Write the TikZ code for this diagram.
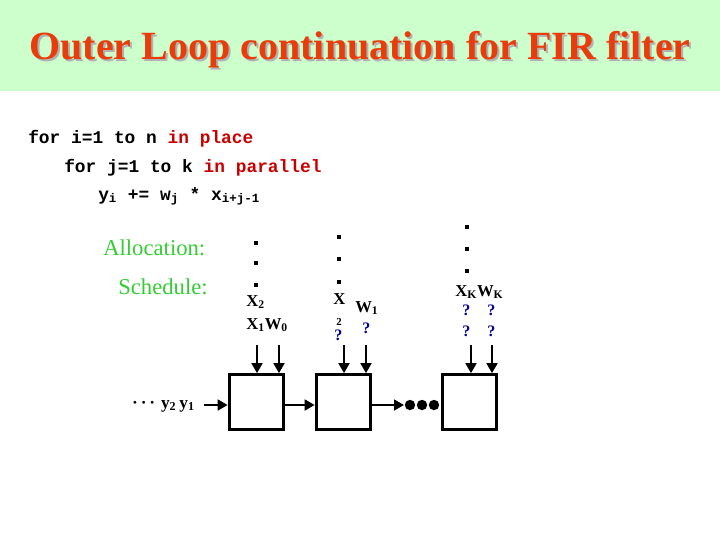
\documentclass[tikz,border=0pt]{standalone}
\usepackage{fontspec}
\setmainfont{Liberation Serif}
\setmonofont{Liberation Mono}
\usetikzlibrary{arrows.meta}
\definecolor{bandgreen}{RGB}{204,255,204}
\definecolor{titlered}{RGB}{232,60,10}
\definecolor{codered}{RGB}{200,0,0}
\definecolor{labgreen}{RGB}{51,204,51}
\definecolor{qblue}{RGB}{0,0,150}
\tikzset{
  codetxt/.style={anchor=base west, inner sep=0pt, font=\ttfamily\bfseries\fontsize{13.4}{15}\selectfont},
  labtxt/.style={anchor=base west, inner sep=0pt, text=labgreen, font=\fontsize{17}{20}\selectfont},
  vartxt/.style={anchor=base west, inner sep=0pt, font=\bfseries\fontsize{12.5}{14}\selectfont},
  qtxt/.style={anchor=base west, inner sep=0pt, text=qblue, font=\bfseries\fontsize{12}{14}\selectfont},
  dottxt/.style={inner sep=0pt, minimum size=2.5pt, fill=black},
  pe/.style={draw, line width=2.2pt, minimum width=41pt, minimum height=41pt, inner sep=0pt},
  feed/.style={line width=2.2pt, -{Triangle[length=7.5pt,width=8pt]}},
}
\begin{document}
\begin{tikzpicture}[x=0.75pt, y=-0.75pt]
\useasboundingbox (0,0) rectangle (720,540);
\fill[bandgreen] (0,0) rectangle (720,91);
% title
\node[text=gray!60, font=\bfseries\fontsize{30}{34}\selectfont, inner sep=0pt, anchor=base] at (362,61) {Outer Loop continuation for FIR filter};
\node (title) [text=titlered, font=\bfseries\fontsize{30}{34}\selectfont, inner sep=0pt, anchor=base] at (360,59) {Outer Loop continuation for FIR filter};
% code
\node (c1) [codetxt] at (28,143) {for i=1 to n \textcolor{codered}{in place}};
\node (c2) [codetxt] at (64,172) {for j=1 to k \textcolor{codered}{in parallel}};
\node (c3) [codetxt] at (98,200) {y\textsubscript{i} += w\textsubscript{j} * x\textsubscript{i+j-1}};
% labels
\node (alloc) [labtxt] at (103,255) {Allocation:};
\node (sched) [labtxt] at (118,294) {Schedule:};
% column 1
\node (d11) [dottxt] at (256,243) {};
\node (d12) [dottxt] at (256,263) {};
\node (d13) [dottxt] at (256,285) {};
\node (x2) [vartxt] at (246,306) {X$_{\mathbf 2}$};
\node (x1w0) [vartxt] at (246,329) {X$_{\mathbf 1}$W$_{\mathbf 0}$};
% column 2
\node (d21) [dottxt] at (339,237) {};
\node (d22) [dottxt] at (339,259) {};
\node (d23) [dottxt] at (339,282) {};
\node (xx) [vartxt] at (333,304) {X};
\node (w1) [vartxt] at (355,312) {W$_{\mathbf 1}$};
\node (two) [anchor=base west, inner sep=0pt, font=\bfseries\fontsize{8}{9}\selectfont] at (336,325) {2};
\node (q21) [qtxt] at (334,340) {?};
\node (q22) [qtxt] at (362,333) {?};
% column 3
\node (d31) [dottxt] at (467,227) {};
\node (d32) [dottxt] at (467,249) {};
\node (d33) [dottxt] at (467,271) {};
\node (xkwk) [vartxt] at (455,296) {X$_{\mathbf K}$W$_{\mathbf K}$};
\node (q31) [qtxt] at (462,315) {?};
\node (q32) [qtxt] at (487,315) {?};
\node (q33) [qtxt] at (462,336) {?};
\node (q34) [qtxt] at (487,336) {?};
% processing elements
\node (b1) [pe] at (256.5,402) {};
\node (b2) [pe] at (343.5,402) {};
\node (b3) [pe] at (469.5,402) {};
% feed arrows
\coordinate (t1a) at (257,345); \coordinate (t1b) at (279,345);
\coordinate (t2a) at (344,345); \coordinate (t2b) at (366,345);
\coordinate (t3a) at (471,345); \coordinate (t3b) at (492,345);
\draw[feed] (t1a) -- (t1a |- b1.north);
\draw[feed] (t1b) -- (t1b |- b1.north);
\draw[feed] (t2a) -- (t2a |- b2.north);
\draw[feed] (t2b) -- (t2b |- b2.north);
\draw[feed] (t3a) -- (t3a |- b3.north);
\draw[feed] (t3b) -- (t3b |- b3.north);
% input
\node (yin) [anchor=east, inner sep=0pt, font=\bfseries\fontsize{13}{15}\selectfont] at (195,406) {·\,·\,·\,\,y$_{\mathbf 2}$\,y$_{\mathbf 1}$};
\coordinate (instart) at (204,405);
\draw[feed] (instart) -- (b1.west |- instart);
\draw[feed] (b1.east |- instart) -- (b2.west |- instart);
\coordinate (dotsstart) at (404,405);
\draw[feed] (b2.east |- instart) -- (dotsstart);
\foreach \i/\xx in {1/410,2/422,3/434}{\fill (\xx,405) circle (5.2);}
\end{tikzpicture}
\end{document}
